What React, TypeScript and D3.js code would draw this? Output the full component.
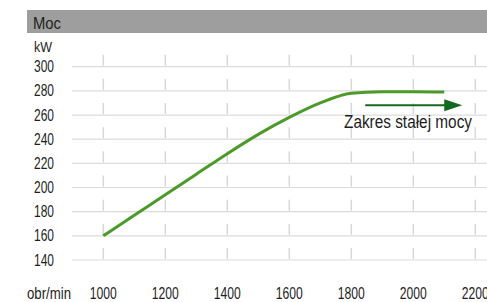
import React from "react";
import * as d3 from "d3";

const rpm = [1000, 1100, 1200, 1300, 1400, 1500, 1600, 1700, 1800, 1900, 2000, 2100];
const power = [160, 177, 194, 211, 228, 244, 258, 270, 278, 279.2, 279.3, 279];
const xTicks = [1000, 1200, 1400, 1600, 1800, 2000, 2200];
const yTicks = [140, 160, 180, 200, 220, 240, 260, 280, 300];
const title = "Moc";
const unitY = "kW";
const unitX = "obr/min";
const annotation = "Zakres stałej mocy";
const arrowRange = [1845, 2158];
const arrowValue = 268;

const FONT = "'Liberation Sans', Arial, sans-serif";

function T(props: { x: number; y: number; size: number; w: number; anchor?: string; children: React.ReactNode }) {
  const { x, y, size, w, anchor = "start", children } = props;
  return (
    <text x={x} y={y} fontSize={size} textAnchor={anchor} fill="#1e1e1e" textLength={w} lengthAdjust="spacingAndGlyphs">
      {children}
    </text>
  );
}

export default function App() {
  const W = 487, H = 302;
  const x = d3.scaleLinear().domain([1000, 2200]).range([103.3, 475.3]);
  const y = d3.scaleLinear().domain([140, 300]).range([260, 66.7]);
  const line = d3.line<number>().x((_, i) => x(rpm[i])).y((d) => y(d)).curve(d3.curveMonotoneX);
  const ax0 = x(arrowRange[0]);
  const ax1 = x(arrowRange[1]);
  const ay = y(arrowValue);
  return (
    <div style={{ position: "fixed", left: 0, top: 0 }}>
      <svg width={W} height={H} style={{ display: "block" }} fontFamily={FONT}>
        <rect x={0} y={0} width={W} height={H} fill="#fff" />
        <rect x={27} y={10} width={W - 27} height={23} fill="#9e9e9e" />
        <T x={33} y={29} size={16} w={28}>{title}</T>
        <T x={34} y={52} size={15} w={18}>{unitY}</T>
        {yTicks.map((t) => (
          <g key={t}>
            <line x1={72} x2={W} y1={y(t)} y2={y(t)} stroke="#dcdcdc" strokeWidth={1.2} />
            <T x={54} y={y(t) + 5.5} size={16} w={20} anchor="end">{t}</T>
          </g>
        ))}
        {xTicks.map((t) => (
          <g key={t}>
            {yTicks.map((yt) => (
              <line key={yt} x1={x(t)} x2={x(t)} y1={y(yt) - 12} y2={y(yt) - 1} stroke="#d8d8d8" strokeWidth={1.5} />
            ))}
            <T x={x(t)} y={299} size={16} w={27} anchor="middle">{t}</T>
          </g>
        ))}
        <T x={27} y={299} size={16} w={44}>{unitX}</T>
        <path d={line(power) || ""} fill="none" stroke="#4c9a2a" strokeWidth={3} />
        <line x1={ax0} x2={ax1 - 16} y1={ay} y2={ay} stroke="#106b1e" strokeWidth={2} />
        <path d={`M${ax1 - 18},${ay - 6}L${ax1},${ay}L${ax1 - 18},${ay + 6}Z`} fill="#106b1e" />
        <T x={344} y={128} size={17.5} w={128}>{annotation}</T>
      </svg>
    </div>
  );
}
